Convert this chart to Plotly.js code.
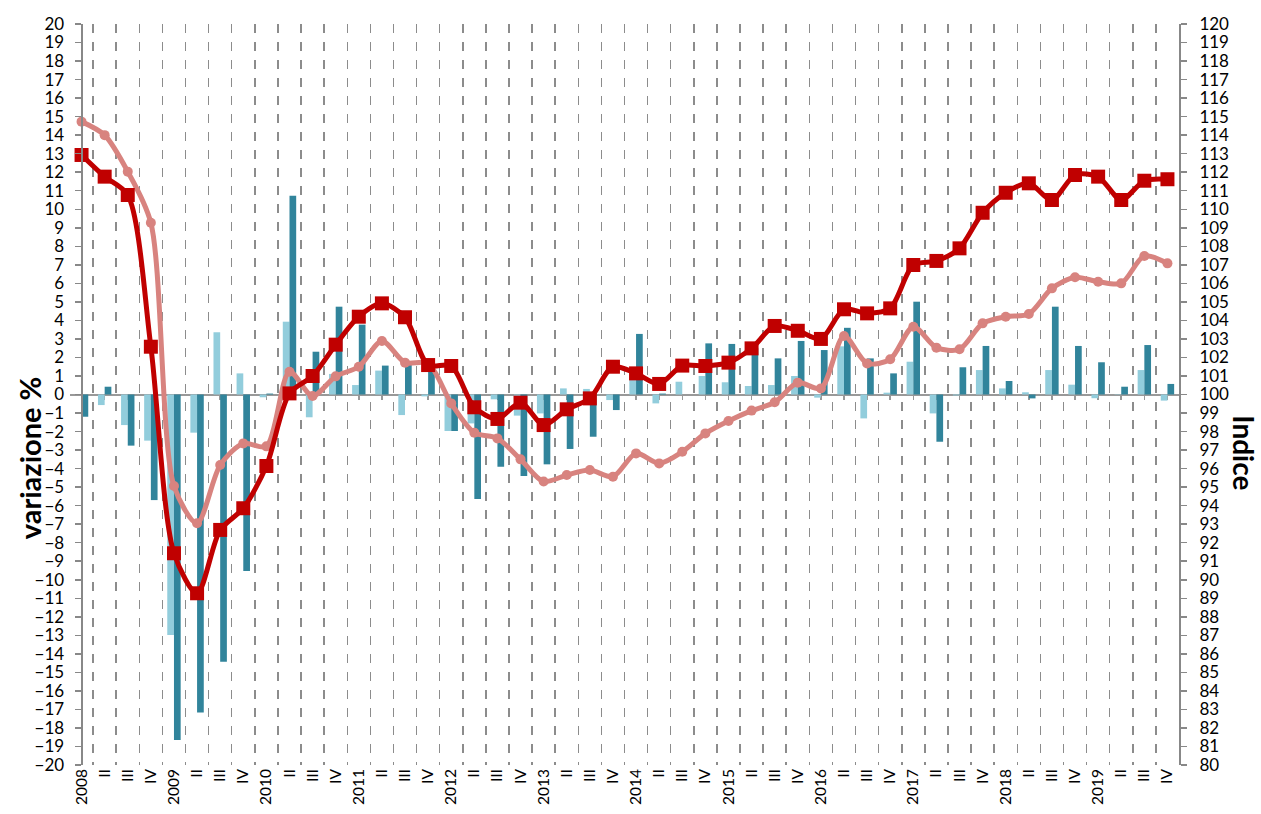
<!DOCTYPE html>
<html>
<head>
<meta charset="utf-8">
<script src="https://cdn.plot.ly/plotly-3.0.1.min.js"></script>
<style>
html,body{margin:0;padding:0;background:#fff;}
#chart{width:1261px;height:814px;}
</style>
</head>
<body>
<div id="chart"></div>
<script>
// Quarters 2008 I .. 2019 IV
var years = ['2008','2009','2010','2011','2012','2013','2014','2015','2016','2017','2018','2019'];
var quarterLabels = [];
years.forEach(function(y){ quarterLabels.push(y, 'II', 'III', 'IV'); });

// Bars (left axis, variazione %)
var varLight = [0, -0.57, -1.65, -2.49, -12.98, -2.06, 3.36, 1.14,
  -0.15, 3.93, -1.23, 1.11, 0.51, 1.29, -1.11, -0.1,
  -1.97, -1.56, -0.26, -1.14, -1.02, 0.33, 0.3, -0.3,
  0.78, -0.48, 0.69, 1.0, 0.66, 0.46, 0.51, 1.0,
  -0.17, 2.6, -1.29, 0.1, 1.77, -1.02, -0.05, 1.32,
  0.33, 0.12, 1.32, 0.53, -0.2, 0.02, 1.32, -0.33];
var varDark = [-1.2, 0.42, -2.76, -5.7, -18.65, -17.16, -14.42, -9.53,
  0.05, 10.73, 2.31, 4.74, 3.77, 1.56, 1.6, 1.4,
  -1.97, -5.64, -3.9, -4.4, -3.77, -2.94, -2.28, -0.84,
  3.27, 0.05, 0, 2.76, 2.73, 2.5, 1.95, 2.89,
  2.4, 3.6, 1.95, 1.14, 5.01, -2.55, 1.47, 2.62,
  0.73, -0.21, 4.74, 2.62, 1.74, 0.42, 2.67, 0.57];

// Lines (right axis, Indice)
var indexRed = [112.93, 111.76, 110.77, 102.58, 91.43, 89.27, 92.69, 93.86,
  96.14, 100.06, 101.0, 102.69, 104.2, 104.92, 104.17, 101.59,
  101.54, 99.31, 98.68, 99.56, 98.35, 99.2, 99.79, 101.5,
  101.14, 100.57, 101.56, 101.54, 101.72, 102.49, 103.7, 103.44,
  103.0, 104.6, 104.38, 104.65, 106.99, 107.21, 107.89, 109.81,
  110.89, 111.4, 110.5, 111.85, 111.76, 110.5, 111.54, 111.62];
var indexPink = [114.73, 114.0, 112.03, 109.27, 95.06, 93.05, 96.19, 97.36,
  97.2, 101.23, 99.92, 100.98, 101.5, 102.89, 101.72, 101.68,
  99.52, 97.94, 97.63, 96.5, 95.3, 95.65, 95.92, 95.56,
  96.82, 96.28, 96.91, 97.9, 98.57, 99.13, 99.58, 100.64,
  100.33, 103.16, 101.68, 101.9, 103.66, 102.53, 102.44, 103.84,
  104.2, 104.35, 105.73, 106.33, 106.09, 106.0, 107.48, 107.08];

var xPos = quarterLabels.map(function(_, i){ return i; });
var gridPos = [-0.5].concat(xPos.map(function(i){ return i + 0.5; }));
var FONT = 'Lato, "Open Sans", sans-serif';

var traces = [
  {type:'bar', x:xPos, y:varLight, xaxis:'x', yaxis:'y', marker:{color:'#92CDDC'}, hoverinfo:'skip'},
  {type:'bar', x:xPos, y:varDark, xaxis:'x', yaxis:'y', marker:{color:'#31849B'}, hoverinfo:'skip'},
  {type:'scatter', mode:'lines+markers', x:xPos, y:indexPink, xaxis:'x', yaxis:'y2',
   line:{color:'#D8837F', width:5, shape:'spline', smoothing:0.8},
   marker:{symbol:'circle', size:10, color:'#D8837F'}, hoverinfo:'skip'},
  {type:'scatter', mode:'lines+markers', x:xPos, y:indexRed, xaxis:'x', yaxis:'y2',
   line:{color:'#C00000', width:5, shape:'spline', smoothing:0.8},
   marker:{symbol:'square', size:14, color:'#C00000'}, hoverinfo:'skip'},
  {type:'scatter', mode:'lines', x:[], y:[], xaxis:'x2', yaxis:'y', hoverinfo:'skip'}
];

var layout = {
  width:1261, height:814,
  margin:{l:70, r:82, t:24, b:49},
  paper_bgcolor:'#fff', plot_bgcolor:'#fff',
  showlegend:false,
  barmode:'group', bargap:0.42, bargroupgap:0,
  font:{family:FONT, color:'#000', size:17},
  xaxis:{
    range:[-0.5, 47.5], tickmode:'array', tickvals:xPos, ticktext:quarterLabels,
    tickangle:-90, ticks:'', showgrid:false, zeroline:false, showline:false,
    tickfont:{family:FONT, size:15.5, color:'#000'},
    minor:{tickmode:'array', tickvals:gridPos, showgrid:true, gridcolor:'#8c8c8c',
           griddash:'dash', gridwidth:1.5, ticks:''}
  },
  xaxis2:{
    overlaying:'x', anchor:'free', position:0.5, range:[-0.5, 47.5],
    tickmode:'array', tickvals:xPos, ticks:'outside', ticklen:4, tickwidth:1.5, tickcolor:'#999',
    showticklabels:false, showline:true, linecolor:'#999', linewidth:2,
    showgrid:false, zeroline:false, layer:'below traces'
  },
  yaxis:{
    range:[-20, 20], dtick:1, tick0:0, anchor:'free', position:0.5/48,
    showline:true, linecolor:'#888', linewidth:2, ticks:'outside', ticklen:6, tickwidth:1.5, tickcolor:'#888',
    showgrid:false, zeroline:false, ticklabelstandoff:7,
    tickfont:{family:FONT, size:17, color:'#000'}
  },
  yaxis2:{
    range:[80, 120], dtick:1, tick0:80, overlaying:'y', side:'right', anchor:'x',
    showline:true, linecolor:'#888', linewidth:2, ticks:'outside', ticklen:6, tickwidth:1.5, tickcolor:'#888',
    showgrid:false, zeroline:false, ticklabelstandoff:9,
    tickfont:{family:FONT, size:17, color:'#000'}
  },
  annotations:[
    {text:'<b>variazione %</b>', xref:'paper', yref:'paper', x:0, y:0.414, xanchor:'center', yanchor:'middle',
     xshift:-41, textangle:-90, showarrow:false, font:{family:FONT, size:29, color:'#000'}},
    {text:'<b>Indice</b>', xref:'paper', yref:'paper', x:1, y:0.422, xanchor:'center', yanchor:'middle',
     xshift:65, textangle:90, showarrow:false, font:{family:FONT, size:28, color:'#000'}}
  ]
};

Plotly.newPlot('chart', traces, layout, {displayModeBar:false, staticPlot:true});
</script>
</body>
</html>
